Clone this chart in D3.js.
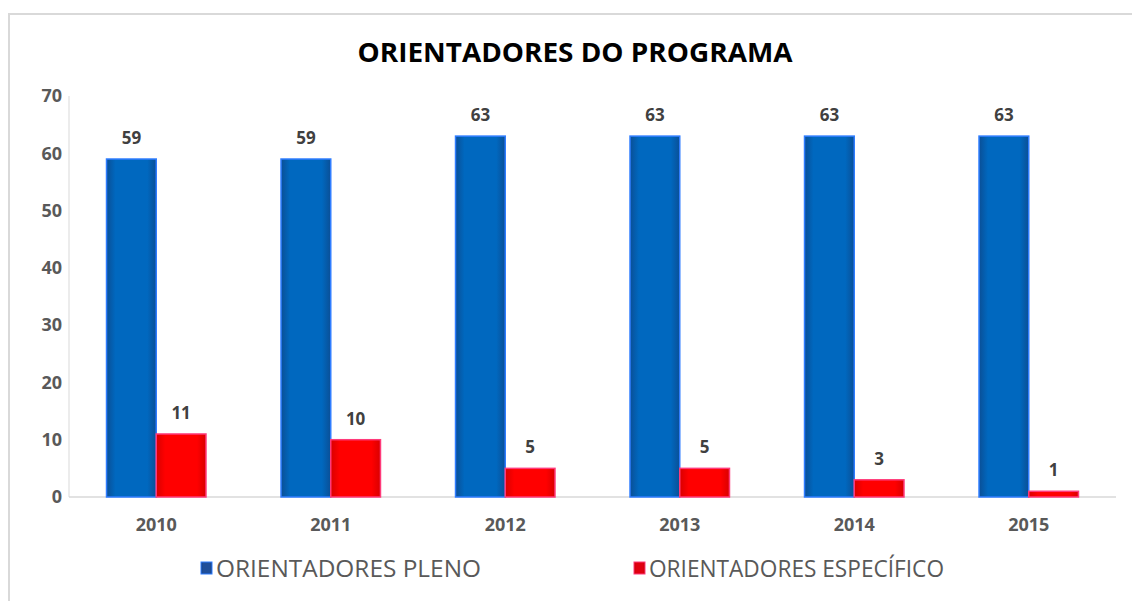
<!DOCTYPE html>
<html>
<head>
<meta charset="utf-8">
<script src="https://cdn.jsdelivr.net/npm/d3@7"></script>
<style>
  body { margin: 0; background: #fff; }
  text { font-family: "Open Sans", "DejaVu Sans", sans-serif; }
</style>
</head>
<body>
<div id="chart"></div>
<script>
const years = ["2010", "2011", "2012", "2013", "2014", "2015"];
const pleno = [59, 59, 63, 63, 63, 63];
const especifico = [11, 10, 5, 5, 3, 1];
const yTicks = [0, 10, 20, 30, 40, 50, 60, 70];
const seriesNames = ["ORIENTADORES PLENO", "ORIENTADORES ESPECÍFICO"];

const width = 1132, height = 601;
const margin = { top: 96, right: 16, bottom: 104, left: 69 };

const svg = d3.select("#chart").append("svg")
    .attr("width", width)
    .attr("height", height);

// chart frame (only top and left edges visible in the picture)
svg.append("rect")
    .attr("x", 9).attr("y", 14)
    .attr("width", width + 10).attr("height", height + 10)
    .attr("fill", "none")
    .attr("stroke", "#d9d9d9")
    .attr("stroke-width", 2);

const defs = svg.append("defs");
function shadeGrad(id, edge, mid) {
    const g = defs.append("linearGradient").attr("id", id)
        .attr("x1", "0%").attr("x2", "100%").attr("y1", "0%").attr("y2", "0%");
    g.append("stop").attr("offset", "0%").attr("stop-color", edge);
    g.append("stop").attr("offset", "18%").attr("stop-color", mid);
    g.append("stop").attr("offset", "82%").attr("stop-color", mid);
    g.append("stop").attr("offset", "100%").attr("stop-color", edge);
}
shadeGrad("gBlue", "#0a4f96", "#0068bf");
shadeGrad("gRed", "#d90000", "#ff0000");
shadeGrad("gBlueLeg", "#123f80", "#1f4e9a");
shadeGrad("gRedLeg", "#c00000", "#e00010");

const x = d3.scaleBand()
    .domain(years)
    .range([margin.left, width - margin.right])
    .paddingInner(0.43)
    .paddingOuter(0.215);

const xSub = d3.scaleBand()
    .domain([0, 1])
    .range([0, x.bandwidth()]);

const y = d3.scaleLinear()
    .domain([0, 70])
    .range([height - margin.bottom, margin.top]);

// axes lines
svg.append("line")
    .attr("x1", margin.left).attr("x2", margin.left)
    .attr("y1", y(70)).attr("y2", y(0))
    .attr("stroke", "#d9d9d9").attr("stroke-width", 1);
svg.append("line")
    .attr("x1", margin.left).attr("x2", width - margin.right)
    .attr("y1", y(0)).attr("y2", y(0))
    .attr("stroke", "#d9d9d9").attr("stroke-width", 1.5);

// y tick labels
svg.selectAll(".ytick")
    .data(yTicks)
    .enter()
    .append("text")
    .attr("class", "ytick")
    .attr("x", 62)
    .attr("y", d => y(d))
    .attr("dy", "0.35em")
    .attr("text-anchor", "end")
    .attr("font-size", 18)
    .attr("font-weight", "bold")
    .attr("fill", "#595959")
    .text(d => d);

// x labels
svg.selectAll(".xtick")
    .data(years)
    .enter()
    .append("text")
    .attr("class", "xtick")
    .attr("x", d => x(d) + x.bandwidth() / 2)
    .attr("y", 531)
    .attr("text-anchor", "middle")
    .attr("font-size", 18)
    .attr("font-weight", "bold")
    .attr("fill", "#595959")
    .text(d => d);

const series = [
    { values: pleno, fill: "url(#gBlue)", stroke: "#2f7dff" },
    { values: especifico, fill: "url(#gRed)", stroke: "#ff3a7a" }
];

series.forEach((s, si) => {
    svg.selectAll(".bar" + si)
        .data(years)
        .enter()
        .append("rect")
        .attr("class", "bar" + si)
        .attr("x", d => x(d) + xSub(si))
        .attr("y", (d, i) => y(s.values[i]))
        .attr("width", xSub.bandwidth())
        .attr("height", (d, i) => y(0) - y(s.values[i]))
        .attr("fill", s.fill)
        .attr("stroke", s.stroke)
        .attr("stroke-width", 1.5);

    svg.selectAll(".lab" + si)
        .data(years)
        .enter()
        .append("text")
        .attr("class", "lab" + si)
        .attr("x", d => x(d) + xSub(si) + xSub.bandwidth() / 2)
        .attr("y", (d, i) => y(s.values[i]) - 15)
        .attr("text-anchor", "middle")
        .attr("font-size", 17)
        .attr("font-weight", "bold")
        .attr("fill", "#404040")
        .text((d, i) => s.values[i]);
});

// title
svg.append("text")
    .attr("x", 575)
    .attr("y", 62)
    .attr("text-anchor", "middle")
    .attr("font-size", 26)
    .attr("font-weight", "bold")
    .attr("fill", "#000")
    .attr("textLength", 435)
    .attr("lengthAdjust", "spacingAndGlyphs")
    .text("ORIENTADORES DO PROGRAMA");

// legend
const legend = [
    { name: seriesNames[0], x: 201, fill: "url(#gBlueLeg)", stroke: "#2f7dff", tw: 265 },
    { name: seriesNames[1], x: 634, fill: "url(#gRedLeg)", stroke: "#ff3a7a", tw: 295 }
];
const lg = svg.selectAll(".legend")
    .data(legend)
    .enter()
    .append("g")
    .attr("class", "legend");
lg.append("rect")
    .attr("x", d => d.x)
    .attr("y", 562)
    .attr("width", 11)
    .attr("height", 12)
    .attr("fill", d => d.fill)
    .attr("stroke", d => d.stroke)
    .attr("stroke-width", 1);
lg.append("text")
    .attr("x", d => d.x + 15)
    .attr("y", 577)
    .attr("font-size", 24)
    .attr("fill", "#595959")
    .attr("textLength", d => d.tw)
    .attr("lengthAdjust", "spacingAndGlyphs")
    .text(d => d.name);
</script>
</body>
</html>
